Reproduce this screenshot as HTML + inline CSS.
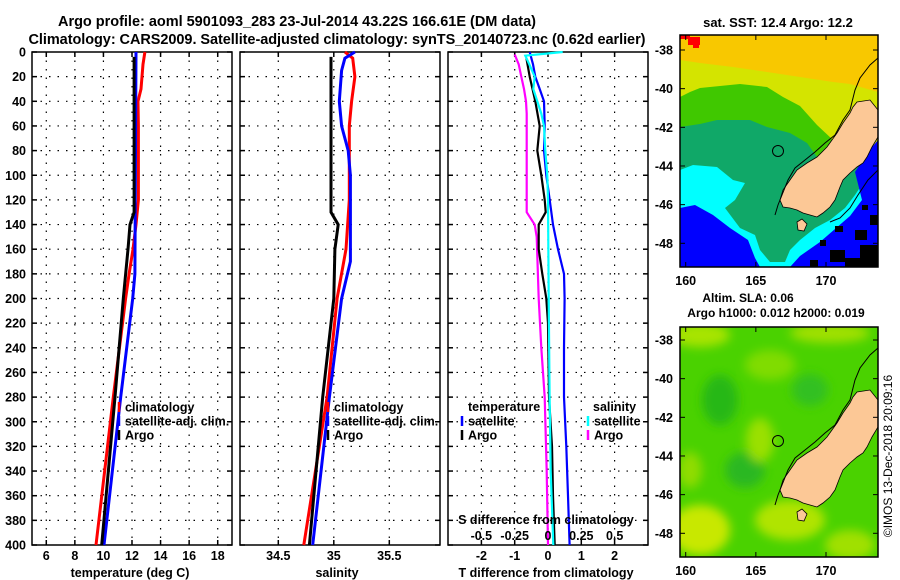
<!DOCTYPE html>
<html><head><meta charset="utf-8"><style>
html,body{margin:0;padding:0;background:#fff;}
svg{display:block;font-family:"Liberation Sans",sans-serif;font-weight:bold;}
</style></head><body>
<svg id="fig" width="900" height="580" viewBox="0 0 900 580" xmlns="http://www.w3.org/2000/svg">
<defs>
<clipPath id="m1clip"><rect x="680" y="35" width="198" height="232"/></clipPath>
<clipPath id="m2clip"><rect x="680" y="327" width="198" height="230"/></clipPath>
<filter id="blur3"><feGaussianBlur stdDeviation="5"/></filter>
</defs>
<text x="297" y="26" font-size="14.5" text-anchor="middle" textLength="478">Argo profile: aoml 5901093_283 23-Jul-2014 43.22S 166.61E (DM data)</text>
<text x="337" y="44" font-size="14.5" text-anchor="middle" textLength="617">Climatology: CARS2009. Satellite-adjusted climatology: synTS_20140723.nc (0.62d earlier)</text>

<!-- Map 1 -->
<g>
<text x="778" y="27" font-size="13" text-anchor="middle">sat. SST: 12.4 Argo: 12.2</text>
<g clip-path="url(#m1clip)">
<rect x="680" y="35" width="198" height="232" fill="#f8c800"/>
<polygon fill="#d4e400" points="680,60 700,63 733,67 767,72 800,77 833,82 850,84 878,92 878,267 680,267"/>
<polygon fill="#40c800" points="680,97 690,92 700,88 720,86 740,84 767,87 783,97 800,106 817,125 833,140 850,150 878,150 878,267 680,267"/>
<polygon fill="#10a868" points="680,127 700,124 717,120 750,120 767,127 790,133 807,143 817,157 830,165 878,165 878,267 680,267"/>
<polygon fill="#00ffff" points="680,170 693,165 717,167 733,180 745,183 735,200 725,208 740,228 755,235 760,250 770,262 785,262 790,250 800,240 815,228 830,220 845,208 855,195 865,180 878,160 878,267 680,267"/>
<polygon fill="#0000ff" points="680,208 695,205 713,215 730,228 748,240 755,258 760,267 680,267"/>
<polygon fill="#0000ff" points="855,172 868,152 878,140 878,267 790,267 800,256 820,242 835,229 850,216 862,200"/>
<g fill="#000">
<rect x="835" y="226" width="8" height="6"/><rect x="855" y="230" width="12" height="10"/><rect x="860" y="245" width="18" height="22"/>
<rect x="830" y="250" width="15" height="12"/><rect x="845" y="258" width="20" height="9"/><rect x="870" y="215" width="8" height="10"/>
<rect x="820" y="240" width="6" height="6"/><rect x="810" y="260" width="8" height="7"/><rect x="862" y="205" width="6" height="5"/>
</g>
<g fill="#ff0000"><rect x="680" y="35" width="10" height="4"/><rect x="688" y="37" width="12" height="8"/><rect x="693" y="43" width="6" height="5"/></g>
<polygon id="land1" fill="#fcc896" stroke="#000" stroke-width="0.8" points="857,102 870,100 878,110 878,137 872,147 867,157 863,163 857,167 850,173 843,180 840,187 835,200 830,207 823,213 817,217 810,215 803,213 797,210 790,208 783,207 780,200 783,190 790,180 797,170 807,163 817,157 827,147 837,133 843,123 850,113 853,107"/>
<polygon fill="#fcc896" stroke="#000" stroke-width="0.8" points="797,222 802,219 807,224 804,231 798,230"/>
<polyline fill="none" stroke="#000" stroke-width="1" points="878,58 870,65 860,78 855,90 850,110 843,120 835,135 825,143 815,152 805,160 795,168 788,180 782,195 778,205 775,215"/>
<polyline fill="none" stroke="#000" stroke-width="1" points="878,170 868,180 858,195 850,208 840,218 830,222"/>
<circle cx="778" cy="151" r="5.5" fill="none" stroke="#000" stroke-width="1"/>
</g>
<rect x="680" y="35" width="198" height="232" fill="none" stroke="#000" stroke-width="1.5"/>
</g>

<!-- Map 2 -->
<g>
<text x="748" y="302" font-size="12" text-anchor="middle">Altim. SLA: 0.06</text>
<text x="776" y="317" font-size="12" text-anchor="middle">Argo h1000: 0.012 h2000: 0.019</text>
<g clip-path="url(#m2clip)">
<rect x="680" y="327" width="198" height="230" fill="#4ad200"/>
<g filter="url(#blur3)">
<ellipse cx="700" cy="335" rx="30" ry="12" fill="#a8e400"/>
<ellipse cx="830" cy="333" rx="40" ry="10" fill="#a0e000"/>
<ellipse cx="770" cy="365" rx="25" ry="15" fill="#80dc00"/>
<ellipse cx="720" cy="400" rx="18" ry="25" fill="#28b818"/>
<ellipse cx="745" cy="470" rx="20" ry="18" fill="#2cb820"/>
<ellipse cx="700" cy="530" rx="30" ry="25" fill="#c8e800"/>
<ellipse cx="790" cy="520" rx="35" ry="20" fill="#b0e400"/>
<ellipse cx="760" cy="440" rx="14" ry="22" fill="#9ae000"/>
<ellipse cx="850" cy="545" rx="25" ry="15" fill="#a0e000"/>
<ellipse cx="690" cy="470" rx="12" ry="18" fill="#90dc00"/>
<ellipse cx="810" cy="390" rx="18" ry="16" fill="#30c020"/>
</g>
<use href="#land1" transform="translate(0,290)"/>
<polygon fill="#fcc896" stroke="#000" stroke-width="0.8" points="797,512 802,509 807,514 804,521 798,520"/>
<polyline fill="none" stroke="#000" stroke-width="1" points="878,348 870,355 860,368 855,380 850,400 843,410 835,425 825,433 815,442 805,450 795,458 788,470 782,485 778,495 775,505" />
<circle cx="778" cy="441" r="5.5" fill="none" stroke="#000" stroke-width="1"/>
</g>
<rect x="680" y="327" width="198" height="230" fill="none" stroke="#000" stroke-width="1.5"/>
</g>
<text transform="translate(892,456) rotate(-90)" font-size="12" font-weight="normal" text-anchor="middle">©IMOS 13-Dec-2018 20:09:16</text>

<g id="plots"></g>
</svg>
<script>
// ---- data ----
const tempDepths = [0,10,30,40,60,120,140,160,180,200,280,400];
const tempClim   = [12.9,12.77,12.63,12.42,12.45,12.45,12.28,12.07,11.8,11.55,10.69,9.48];
const tempSatDepths = [0,180,200,280,400];
const tempSat    = [12.28,12.2,12.05,11.21,10.04];
const argoTDepths = [4,130,140,160,200,280,400];
const argoT      = [12.15,12.15,11.86,11.72,11.39,10.81,9.88];

const salDepths  = [0,5,20,40,60,120,160,200,280,400];
const salClim    = [35.1,35.17,35.19,35.16,35.14,35.14,35.11,35.03,34.94,34.73];
const salSatDepths = [0,5,15,40,60,80,100,170,200,280,400];
const salSat     = [35.19,35.1,35.07,35.05,35.07,35.13,35.15,35.15,35.07,34.96,34.81];
const argoSDepths = [4,130,140,160,200,280,400];
const argoS      = [34.975,34.975,35.04,35.01,35.0,34.9,34.78];

const dTSatDepths = [0,10,20,30,40,60,80,100,120,140,160,180,200,240,280,320,360,400];
const dTSat      = [-0.55,-0.45,-0.38,-0.25,-0.12,-0.1,-0.12,-0.05,0.05,0.15,0.3,0.48,0.5,0.48,0.48,0.55,0.6,0.65];
const dTArgoDepths = [5,20,40,60,80,100,120,130,140,160,180,200,220,260,280,320,360,400];
const dTArgo     = [-0.65,-0.55,-0.38,-0.25,-0.32,-0.2,-0.1,-0.07,-0.28,-0.28,-0.17,-0.05,0,0.02,0.03,0.12,0.15,0.2];
const dSSatDepths = [0,3,10,20,30,40,50,60,80,100,120,200,280,340,400];
const dSSat      = [0.11,-0.17,-0.14,-0.1,-0.11,-0.08,-0.05,-0.03,-0.02,-0.005,0,0.005,0.012,0.02,0.04];
const dSArgoDepths = [2,10,20,30,40,50,130,140,150,200,240,280,340,400];
const dSArgo     = [-0.25,-0.22,-0.2,-0.18,-0.165,-0.16,-0.16,-0.1,-0.085,-0.07,-0.05,-0.025,-0.01,0.0];

const depthTicks = [0,20,40,60,80,100,120,140,160,180,200,220,240,260,280,300,320,340,360,380,400];
const tempTicks = [6,8,10,12,14,16,18];
const salTicks = [34.5,35,35.5];
const dTTicks = [-2,-1,0,1,2];
const dSTicks = [-0.5,-0.25,0,0.25,0.5];
const dSTickLabels = ["-0.5","-0.25","0","0.25","0.5"];
const mapLats = [-38,-40,-42,-44,-46,-48];
const mapLons = [160,165,170];

// ---- axes ----
const NS = 'http://www.w3.org/2000/svg';
const Y0 = 52, Y1 = 545;
const yD = d => Y0 + d * (Y1 - Y0) / 400;
const xT = t => 32 + (t - 5) * 200 / 14;
const xS = s => 333.8 + (s - 35) * 111;
const xDT = v => 548 + v * 33.3;
const xDS = v => 548 + v * 133.3;
const lonX = lon => 685.7 + (lon - 160) * 14.03;
const latY1 = lat => 50 + (-38 - lat) * 19.33;
const latY2 = lat => 340 + (-38 - lat) * 19.33;
const root = document.getElementById('plots');

function mk(tag, attrs, parent) {
  const e = document.createElementNS(NS, tag);
  for (const k in attrs) e.setAttribute(k, attrs[k]);
  (parent || root).appendChild(e);
  return e;
}
function txt(x, y, s, size, anchor, parent) {
  const t = mk('text', {x: x, y: y, 'font-size': size, 'text-anchor': anchor || 'middle'}, parent);
  t.textContent = s;
  return t;
}
function panel(x0, name, xs, ticks, fx) {
  const g = mk('g', {});
  
  
  depthTicks.forEach(d => {
    const y = yD(d);
    if (d > 0 && d < 400) mk('line', {x1: x0, x2: x0 + 200, y1: y, y2: y, stroke: '#000', 'stroke-width': 1.2, 'stroke-dasharray': '1.5,7'}, g);
    mk('line', {x1: x0, x2: x0 + 5, y1: y, y2: y, stroke: '#000', 'stroke-width': 1.5}, g);
    mk('line', {x1: x0 + 195, x2: x0 + 200, y1: y, y2: y, stroke: '#000', 'stroke-width': 1.5}, g);
  });
  ticks.forEach(v => {
    const x = fx(v);
    mk('line', {x1: x, x2: x, y1: Y0, y2: Y1, stroke: '#000', 'stroke-width': 1.2, 'stroke-dasharray': '1.5,7'}, g);
    mk('line', {x1: x, x2: x, y1: Y0, y2: Y0 + 5, stroke: '#000', 'stroke-width': 1.5}, g);
    mk('line', {x1: x, x2: x, y1: Y1 - 5, y2: Y1, stroke: '#000', 'stroke-width': 1.5}, g);
  });
  mk('rect', {x: x0, y: Y0, width: 200, height: Y1 - Y0, fill: 'none', stroke: '#000', 'stroke-width': 1.5}, g);
  return g;
}
function profile(g, depths, vals, fx, color, w, name) {
  const pts = depths.map((d, i) => fx(vals[i]).toFixed(1) + ',' + yD(d).toFixed(1)).join(' ');
  const p = mk('polyline', {points: pts, fill: 'none', stroke: color, 'stroke-width': w}, g);
  
  
}
function legend(g, x, y, color, label, name) {
  mk('line', {x1: x, x2: x, y1: y - 5, y2: y + 5, stroke: color, 'stroke-width': 2.5}, g);
  const t = txt(x + 6, y + 4.5, label, 12.5, 'start', g);
  
  
}

depthTicks.forEach(d => {
  const t = txt(26, yD(d) + 4.5, String(d), 12.5, 'end');
  
  
});

const g1 = panel(32, 'temperature-panel', null, tempTicks, xT);
profile(g1, tempDepths, tempClim, xT, '#ff0000', 3, 'temperature-climatology-line');
profile(g1, tempSatDepths, tempSat, xT, '#0000ff', 3, 'temperature-satellite-line');
profile(g1, argoTDepths, argoT, xT, '#000', 3, 'temperature-argo-line');
tempTicks.forEach(v => { const t = txt(xT(v), 560, String(v), 12.5, 'middle', g1);   });
let at = txt(130, 577, 'temperature (deg C)', 12.5, 'middle', g1);


legend(g1, 119, 407, '#ff0000', 'climatology', 'legend-climatology');
legend(g1, 119, 421, '#0000ff', 'satellite-adj. clim.', 'legend-satellite');
legend(g1, 119, 435, '#000', 'Argo', 'legend-argo');

const g2 = panel(240, 'salinity-panel', null, salTicks, xS);
profile(g2, salDepths, salClim, xS, '#ff0000', 3, 'salinity-climatology-line');
profile(g2, salSatDepths, salSat, xS, '#0000ff', 3, 'salinity-satellite-line');
profile(g2, argoSDepths, argoS, xS, '#000', 3, 'salinity-argo-line');
salTicks.forEach(v => { const t = txt(xS(v), 560, String(v), 12.5, 'middle', g2);   });
at = txt(337, 577, 'salinity', 12.5, 'middle', g2);


legend(g2, 328, 407, '#ff0000', 'climatology', 'legend-climatology-2');
legend(g2, 328, 421, '#0000ff', 'satellite-adj. clim.', 'legend-satellite-2');
legend(g2, 328, 435, '#000', 'Argo', 'legend-argo-2');

const g3 = panel(448, 'difference-panel', null, dTTicks, xDT);
profile(g3, dSArgoDepths, dSArgo, xDS, '#ff00ff', 2.2, 'salinity-diff-argo-line');
profile(g3, dTArgoDepths, dTArgo, xDT, '#000', 2.2, 'temperature-diff-argo-line');
profile(g3, dTSatDepths, dTSat, xDT, '#0000ff', 2.2, 'temperature-diff-satellite-line');
profile(g3, dSSatDepths, dSSat, xDS, '#00ffff', 2.2, 'salinity-diff-satellite-line');
dTTicks.forEach(v => { const t = txt(xDT(v), 560, String(v), 12.5, 'middle', g3);   });
dSTicks.forEach((v, i) => { const t = txt(xDS(v), 540, dSTickLabels[i], 12.5, 'middle', g3);   });
at = txt(546, 577, 'T difference from climatology', 12.5, 'middle', g3);


at = txt(546, 524, 'S difference from climatology', 12.5, 'middle', g3);


at = txt(468, 411, 'temperature', 12.5, 'start', g3);


at = txt(593, 411, 'salinity', 12.5, 'start', g3);


legend(g3, 462, 421, '#0000ff', 'satellite', 'legend-temp-satellite');
legend(g3, 462, 435, '#000', 'Argo', 'legend-temp-argo');
legend(g3, 588, 421, '#00ffff', 'satellite', 'legend-sal-satellite');
legend(g3, 588, 435, '#ff00ff', 'Argo', 'legend-sal-argo');

[[latY1, 35, 267, 285], [latY2, 327, 557, 575]].forEach(([fy, top, bot, lab]) => {
  mapLats.forEach(l => {
    const y = fy(l);
    mk('line', {x1: 680, x2: 685, y1: y, y2: y, stroke: '#000', 'stroke-width': 1});
    mk('line', {x1: 873, x2: 878, y1: y, y2: y, stroke: '#000', 'stroke-width': 1});
    const t = txt(673, y + 4.5, String(l), 12.5, 'end');
    
    
  });
  mapLons.forEach(l => {
    const x = lonX(l);
    mk('line', {x1: x, x2: x, y1: top, y2: top + 5, stroke: '#000', 'stroke-width': 1});
    mk('line', {x1: x, x2: x, y1: bot - 5, y2: bot, stroke: '#000', 'stroke-width': 1});
    const t = txt(x, lab, String(l), 12.5, 'middle');
    
    
  });
});
</script>
</body></html>
